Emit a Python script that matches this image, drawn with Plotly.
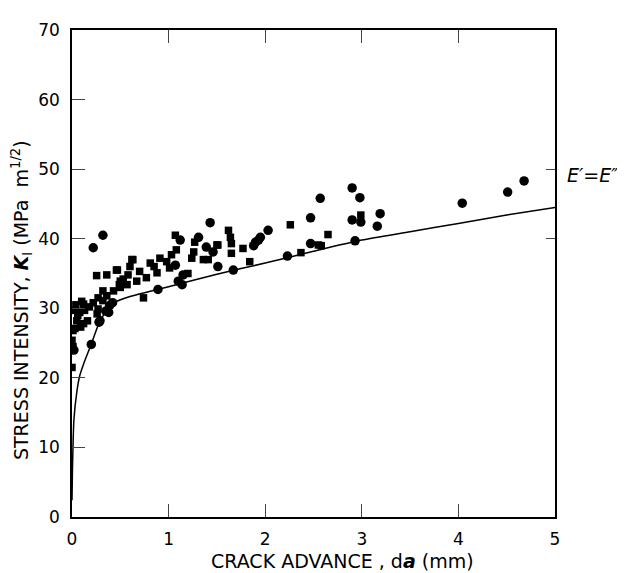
import plotly.graph_objects as go

# Circles (da in mm, K in MPa m^1/2)
circ_x = [0.22, 0.32, 0.02, 0.20, 0.29, 0.38, 0.35, 0.28, 0.42, 0.39, 0.89, 1.07, 1.10, 1.14, 1.15,
          1.12, 1.31, 1.39, 1.43, 1.46, 1.51, 1.67, 1.93, 1.95, 2.03, 1.90, 2.23, 2.47, 2.47, 2.57,
          2.90, 2.93, 2.98, 2.90, 2.99, 3.16, 3.19, 4.04, 4.51, 4.68, 1.88]
circ_y = [38.7, 40.5, 24.0, 24.8, 28.2, 29.4, 29.6, 28.0, 30.8, 30.4, 32.7, 36.2, 33.9, 33.4, 34.8,
          39.8, 40.2, 38.8, 42.3, 38.1, 36.0, 35.5, 39.8, 40.2, 41.2, 39.5, 37.5, 39.3, 43.0, 45.8,
          47.3, 39.7, 45.9, 42.7, 42.4, 41.8, 43.6, 45.1, 46.7, 48.3, 39.0]

# Squares
sq_x = [0.00, 0.01, 0.00, 0.01, 0.03, 0.05, 0.01, 0.08, 0.12, 0.13, 0.06, 0.09, 0.12, 0.16, 0.22,
        0.27, 0.26, 0.27, 0.32, 0.36, 0.32, 0.43, 0.50, 0.49, 0.57, 0.50, 0.255, 0.36, 0.46, 0.47,
        0.58, 0.60, 0.62, 0.63, 0.67, 0.70, 0.74, 0.77, 0.81, 0.88, 0.91, 0.98, 1.01, 1.03, 1.07,
        1.08, 1.24, 1.26, 1.27, 1.36, 1.41, 1.50, 1.51, 1.62, 1.64, 1.65, 1.65, 1.77, 1.84, 2.26,
        2.37, 2.55, 2.58, 2.65, 2.99, 0.04, 0.10, 0.18, 0.53, 0.85, 1.20]
sq_y = [21.5, 24.5, 25.4, 26.8, 27.1, 28.2, 29.7, 29.4, 30.6, 29.7, 29.0, 27.3, 27.8, 28.2, 30.8,
        29.9, 29.2, 31.5, 31.1, 31.8, 32.5, 32.5, 33.0, 33.4, 33.4, 33.9, 34.7, 34.8, 35.5, 35.5,
        34.8, 36.0, 37.0, 37.0, 33.9, 35.3, 31.5, 34.4, 36.5, 35.1, 37.2, 36.7, 35.8, 37.7, 40.5,
        38.4, 37.2, 38.1, 39.5, 37.0, 37.0, 39.1, 39.1, 41.2, 40.2, 39.3, 37.9, 38.6, 36.7, 42.0,
        38.0, 39.1, 39.0, 40.6, 43.4, 30.5, 31.0, 30.2, 34.2, 36.0, 35.0]

# E' = E'' curve
curve_x = [0.0, 0.005, 0.02, 0.05, 0.08, 0.12, 0.19, 0.29, 0.36, 0.45, 0.6, 0.8, 1.0, 1.5, 2.0,
           2.5, 3.0, 3.5, 4.0, 4.5, 5.0]
curve_y = [2.4, 7.0, 14.0, 18.0, 20.3, 22.0, 24.5, 28.2, 29.6, 30.9, 31.7, 32.4, 33.1, 34.9, 36.5,
           38.2, 39.8, 41.0, 42.2, 43.4, 44.5]

x_ticks = [0, 1, 2, 3, 4, 5]
y_ticks = [0, 10, 20, 30, 40, 50, 60, 70]
right_ticks = [40, 50]

FONT = "DejaVu Sans, Liberation Sans, sans-serif"

fig = go.Figure()
fig.add_trace(go.Scatter(x=curve_x, y=curve_y, mode="lines",
                         line=dict(color="black", width=1.5, shape="spline", smoothing=0.6),
                         showlegend=False, hoverinfo="skip"))
fig.add_trace(go.Scatter(x=sq_x, y=sq_y, mode="markers",
                         marker=dict(symbol="square", size=7.5, color="black"), showlegend=False))
fig.add_trace(go.Scatter(x=circ_x, y=circ_y, mode="markers",
                         marker=dict(symbol="circle", size=9.5, color="black"), showlegend=False))
# invisible trace for right-side ticks
fig.add_trace(go.Scatter(x=[0], y=[0], yaxis="y2", mode="markers", marker=dict(opacity=0),
                         showlegend=False, hoverinfo="skip"))

fig.update_layout(
    width=617, height=565,
    margin=dict(l=64, r=70, t=13, b=56),
    plot_bgcolor="white", paper_bgcolor="white",
    font=dict(family=FONT, size=16, color="black"),
    xaxis=dict(range=[0, 5], tickvals=x_ticks, ticks="inside", ticklen=13, tickwidth=1.3,
               showline=True, linecolor="black", linewidth=1.5, mirror="ticks",
               showgrid=False, zeroline=False, tickfont=dict(size=17), ticklabelstandoff=6),
    yaxis=dict(range=[0, 70], tickvals=y_ticks, ticks="inside", ticklen=13, tickwidth=1.3,
               showline=True, linecolor="black", linewidth=1.5, mirror=True,
               showgrid=False, zeroline=False, tickfont=dict(size=17), ticklabelstandoff=7),
    yaxis2=dict(range=[0, 70], overlaying="y", side="right", tickvals=right_ticks, ticks="inside",
                ticklen=9, tickwidth=1.3, showticklabels=False, showline=False, showgrid=False,
                zeroline=False),
    annotations=[
        dict(text="CRACK ADVANCE , d<b><i>a</i></b> (mm)", xref="paper", yref="paper",
             x=0.56, y=-0.091, xanchor="center", yanchor="middle", showarrow=False,
             font=dict(size=19, family=FONT)),
        dict(text="STRESS INTENSITY, <b><i>K</i></b><sub>I</sub> (MPa  m<sup>1/2</sup>)",
             xref="paper", yref="paper", x=-0.104, y=0.445, xanchor="center", yanchor="middle",
             textangle=-90, showarrow=False, font=dict(size=19, family=FONT)),
        dict(text="<i>E′=E″</i>", xref="paper", yref="y", x=1.02, y=49.2, xanchor="left",
             yanchor="middle", showarrow=False, font=dict(size=19, family=FONT)),
    ],
)

fig.write_html("out.html")
